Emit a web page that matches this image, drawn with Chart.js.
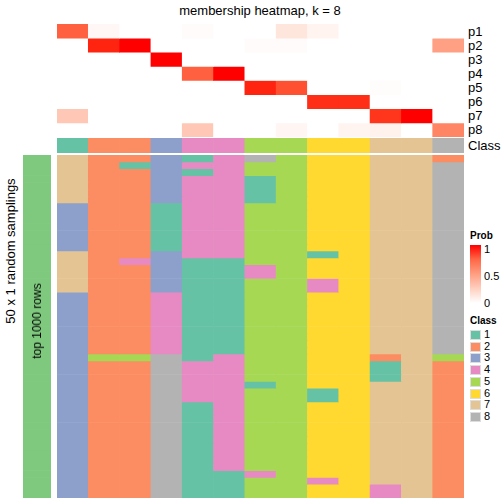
<!DOCTYPE html>
<html>
<head>
<meta charset="utf-8">
<script src="https://cdn.jsdelivr.net/npm/chart.js@4"></script>
<style>
  body { margin: 0; width: 504px; height: 504px; background: #fff; position: relative; overflow: hidden;
         font-family: 'Liberation Sans', Arial, sans-serif; color: #000; }
  canvas, .txt { position: absolute; }
  .txt { white-space: nowrap; }
  .rot { transform-origin: center center; transform: translate(-50%, -50%) rotate(-90deg); }
  .sw { position: absolute; width: 11px; height: 10px; border: 1px solid #ddd; box-sizing: border-box; }
</style>
</head>
<body>
<div class="txt" style="left:0;width:520px;top:3px;text-align:center;font-size:13px;">membership heatmap, k = 8</div>

<canvas id="probChart" width="407" height="113" style="left:57px;top:24px;"></canvas>
<canvas id="classChart" width="407" height="15" style="left:57px;top:138px;"></canvas>
<canvas id="mainChart" width="407" height="343" style="left:57px;top:155px;"></canvas>
<canvas id="groupChart" width="28" height="343" style="left:23px;top:155px;"></canvas>

<div class="txt rot" style="left:10px;top:251px;font-size:13px;">50 x 1 random samplings</div>
<div class="txt rot" style="left:37px;top:321px;font-size:12px;">top 1000 rows</div>

<div id="rowLabels"></div>
<div id="legend"></div>

<script>
// Class colours (1..8)
const classColors = ['#66C2A5', '#FC8D62', '#8DA0CB', '#E78AC3', '#A6D854', '#FFD92F', '#E5C494', '#B3B3B3'];
const groupColor = '#7FC97F';

// Column classes (13 columns)
const columnClass = [1, 2, 2, 3, 4, 4, 5, 5, 6, 6, 7, 7, 8];

// membership probabilities per column
const probLabels = ['p1', 'p2', 'p3', 'p4', 'p5', 'p6', 'p7', 'p8'];
const p1 = [0.78, 0.04, 0, 0, 0.02, 0, 0, 0.13, 0.06, 0, 0, 0, 0];
const p2 = [0, 0.96, 1, 0, 0, 0, 0.02, 0.02, 0, 0, 0, 0, 0.49];
const p3 = [0, 0, 0, 1, 0, 0, 0, 0, 0, 0, 0, 0, 0];
const p4 = [0, 0, 0, 0, 0.78, 1, 0, 0, 0, 0, 0, 0, 0];
const p5 = [0, 0, 0, 0, 0, 0, 0.96, 0.84, 0, 0, 0.01, 0, 0];
const p6 = [0, 0, 0, 0, 0, 0, 0, 0, 0.94, 0.94, 0, 0, 0];
const p7 = [0.29, 0, 0, 0, 0, 0, 0, 0, 0, 0, 0.92, 1, 0];
const p8 = [0, 0, 0, 0, 0.29, 0, 0, 0.05, 0, 0.06, 0.07, 0, 0.62];
const probRows = [p1, p2, p3, p4, p5, p6, p7, p8];

// class of each column in each of the 50 samplings
const samplings = [
  [7,2,2,3,1,4,8,5,6,6,7,7,2],
  [7,2,1,3,4,4,5,5,6,6,7,7,8],
  [7,2,2,3,1,4,5,5,6,6,7,7,8],
  [7,2,2,3,4,4,1,5,6,6,7,7,8],
  [7,2,2,3,4,4,1,5,6,6,7,7,8],
  [7,2,2,3,4,4,1,5,6,6,7,7,8],
  [7,2,2,3,4,4,1,5,6,6,7,7,8],
  [3,2,2,1,4,4,5,5,6,6,7,7,8],
  [3,2,2,1,4,4,5,5,6,6,7,7,8],
  [3,2,2,1,4,4,5,5,6,6,7,7,8],
  [3,2,2,1,4,4,5,5,6,6,7,7,8],
  [3,2,2,1,4,4,5,5,6,6,7,7,8],
  [3,2,2,1,4,4,5,5,6,6,7,7,8],
  [3,2,2,1,4,4,5,5,6,6,7,7,8],
  [7,2,2,3,4,4,5,5,1,6,7,7,8],
  [7,2,4,3,1,1,5,5,6,6,7,7,8],
  [7,2,2,3,1,1,4,5,6,6,7,7,8],
  [7,2,2,3,1,1,4,5,6,6,7,7,8],
  [7,2,2,3,1,1,5,5,4,6,7,7,8],
  [7,2,2,3,1,1,5,5,4,6,7,7,8],
  [3,2,2,4,1,1,5,5,6,6,7,7,8],
  [3,2,2,4,1,1,5,5,6,6,7,7,8],
  [3,2,2,4,1,1,5,5,6,6,7,7,8],
  [3,2,2,4,1,1,5,5,6,6,7,7,8],
  [3,2,2,4,1,1,5,5,6,6,7,7,8],
  [3,2,2,4,1,1,5,5,6,6,7,7,8],
  [3,2,2,4,1,1,5,5,6,6,7,7,8],
  [3,2,2,4,1,1,5,5,6,6,7,7,8],
  [3,2,2,4,1,1,5,5,6,6,7,7,8],
  [3,5,5,8,1,4,5,5,6,6,2,7,5],
  [3,2,2,8,4,4,5,5,6,6,1,7,2],
  [3,2,2,8,4,4,5,5,6,6,1,7,2],
  [3,2,2,8,4,4,5,5,6,6,1,7,2],
  [3,2,2,8,4,4,1,5,6,6,7,7,2],
  [3,2,2,8,4,4,5,5,1,6,7,7,2],
  [3,2,2,8,4,4,5,5,1,6,7,7,2],
  [3,2,2,8,1,4,5,5,6,6,7,7,2],
  [3,2,2,8,1,4,5,5,6,6,7,7,2],
  [3,2,2,8,1,4,5,5,6,6,7,7,2],
  [3,2,2,8,1,4,5,5,6,6,7,7,2],
  [3,2,2,8,1,4,5,5,6,6,7,7,2],
  [3,2,2,8,1,4,5,5,6,6,7,7,2],
  [3,2,2,8,1,4,5,5,6,6,7,7,2],
  [3,2,2,8,1,4,5,5,6,6,7,7,2],
  [3,2,2,8,1,4,5,5,6,6,7,7,2],
  [3,2,2,8,1,4,5,5,6,6,7,7,2],
  [3,2,2,8,1,1,4,5,6,6,7,7,2],
  [3,2,2,8,1,1,5,5,4,6,7,7,2],
  [3,2,2,8,1,1,5,5,6,6,4,7,2],
  [3,2,2,8,1,1,5,5,6,6,4,7,2]
];

// white -> red ramp, interpolated in LAB like colorRamp2
function toLin(c) { c /= 255; return c <= 0.04045 ? c / 12.92 : Math.pow((c + 0.055) / 1.055, 2.4); }
function fromLin(c) { c = c <= 0.0031308 ? 12.92 * c : 1.055 * Math.pow(c, 1 / 2.4) - 0.055; return Math.round(Math.min(1, Math.max(0, c)) * 255); }
function rgbToLab(r, g, b) {
  r = toLin(r); g = toLin(g); b = toLin(b);
  let x = (0.4124 * r + 0.3576 * g + 0.1805 * b) / 0.95047;
  let y = (0.2126 * r + 0.7152 * g + 0.0722 * b);
  let z = (0.0193 * r + 0.1192 * g + 0.9505 * b) / 1.08883;
  const f = t => t > 0.008856 ? Math.cbrt(t) : 7.787 * t + 16 / 116;
  x = f(x); y = f(y); z = f(z);
  return [116 * y - 16, 500 * (x - y), 200 * (y - z)];
}
function labToRgb(L, a, bb) {
  let y = (L + 16) / 116, x = a / 500 + y, z = y - bb / 200;
  const fi = t => t ** 3 > 0.008856 ? t ** 3 : (t - 16 / 116) / 7.787;
  x = fi(x) * 0.95047; y = fi(y); z = fi(z) * 1.08883;
  const r = 3.2406 * x - 1.5372 * y - 0.4986 * z;
  const g = -0.9689 * x + 1.8758 * y + 0.0415 * z;
  const b = 0.0557 * x - 0.2040 * y + 1.0570 * z;
  return `rgb(${fromLin(r)},${fromLin(g)},${fromLin(b)})`;
}
const labWhite = rgbToLab(255, 255, 255), labRed = rgbToLab(255, 0, 0);
function probColor(v) {
  return labToRgb(...labWhite.map((w, i) => w + (labRed[i] - w) * v));
}

// one stacked bar per column, one dataset per row
function drawGrid(id, colorRows) {
  const nCols = colorRows[0].length;
  new Chart(document.getElementById(id), {
    type: 'bar',
    data: {
      labels: Array.from({ length: nCols }, (_, i) => i + 1),
      datasets: colorRows.map(row => ({
        data: row.map(() => 1),
        backgroundColor: row,
        borderWidth: 0,
        barPercentage: 1,
        categoryPercentage: 1
      }))
    },
    options: {
      responsive: false,
      animation: false,
      events: [],
      layout: { padding: 0 },
      plugins: { legend: { display: false }, tooltip: { enabled: false } },
      scales: {
        x: { display: false, stacked: true, offset: true },
        y: { display: false, stacked: true, reverse: true, min: 0, max: colorRows.length }
      }
    }
  });
}

drawGrid('probChart', probRows.map(r => r.map(probColor)));
drawGrid('classChart', [columnClass.map(c => classColors[c - 1])]);
drawGrid('mainChart', samplings.map(r => r.map(c => classColors[c - 1])));
drawGrid('groupChart', samplings.map(() => [groupColor]));

// row labels
let html = '';
probLabels.forEach((l, i) => {
  html += `<div class="txt" style="left:468px;top:${24 + i * 14.1 - 0.5}px;font-size:13px;">${l}</div>`;
});
html += `<div class="txt" style="left:468px;top:137.5px;font-size:13px;">Class</div>`;
document.getElementById('rowLabels').innerHTML = html;

// legends
const stops = [0, 0.25, 0.5, 0.75, 1].map(v => `${probColor(1 - v)} ${v * 100}%`).join(',');
let lg = '';
lg += `<div class="txt" style="left:470px;top:230px;font-size:10px;font-weight:bold;">Prob</div>`;
lg += `<div style="position:absolute;left:470px;top:245px;width:11px;height:58px;background:linear-gradient(${stops});"></div>`;
[['1', 243], ['0.5', 270], ['0', 297]].forEach(([t, y]) => {
  lg += `<div class="txt" style="left:484px;top:${y}px;font-size:11px;">${t}</div>`;
});
lg += `<div class="txt" style="left:470px;top:315px;font-size:10px;font-weight:bold;">Class</div>`;
classColors.forEach((c, i) => {
  const y = 330 + i * 11.7;
  lg += `<div class="sw" style="left:470px;top:${y}px;background:${c};"></div>`;
  lg += `<div class="txt" style="left:484px;top:${y - 2}px;font-size:11px;">${i + 1}</div>`;
});
document.getElementById('legend').innerHTML = lg;
</script>
</body>
</html>
